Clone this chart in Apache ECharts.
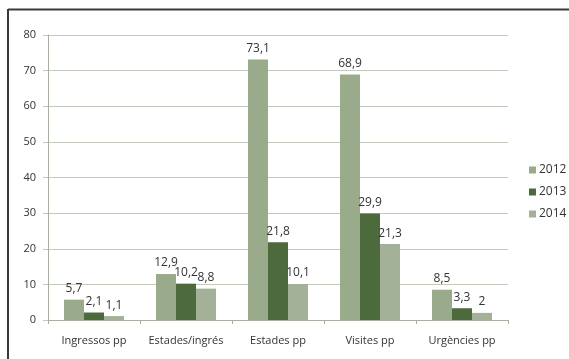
<!DOCTYPE html>
<html><head><meta charset="utf-8">
<script src="https://cdn.jsdelivr.net/npm/echarts@6/dist/echarts.min.js"></script>
<style>html,body{margin:0;padding:0;background:#fff}#c{width:569px;height:359px}</style>
</head><body><div id="c"></div>
<script>
var categories = ['Ingressos pp', 'Estades/ingrés', 'Estades pp', 'Visites pp', 'Urgències pp'];
var years = ['2012', '2013', '2014'];
var v2012 = [5.7, 12.9, 73.1, 68.9, 8.5];
var v2013 = [2.1, 10.2, 21.8, 29.9, 3.3];
var v2014 = [1.1, 8.8, 10.1, 21.3, 2];
var yTicks = [0, 10, 20, 30, 40, 50, 60, 70, 80];

var colors = ['#9aab8c', '#4c6a3b', '#a2b197'];
var font = 'Open Sans, Liberation Sans, sans-serif';
function fmt(p){ return String(p.value).replace('.', ','); }
function mk(name, data, i){
  return {
    name: name, type: 'bar', data: data, barWidth: 20, barGap: '0%',
    itemStyle: { color: colors[i] },
    label: { show: true, position: 'top', distance: 5, color: '#333', fontSize: 12, fontFamily: font, formatter: fmt }
  };
}
var chart = echarts.init(document.getElementById('c'), null, {renderer: 'canvas'});
chart.setOption({
  animation: false,
  grid: { left: 48, right: 61, top: 35, bottom: 39, containLabel: false },
  legend: {
    orient: 'vertical', left: 524, top: 159, itemWidth: 7, itemHeight: 7, itemGap: 10,
    icon: 'rect', data: years,
    textStyle: { color: '#333', fontSize: 12, fontFamily: font, padding: [0,0,0,-2] }
  },
  xAxis: {
    type: 'category', data: categories,
    axisLine: { lineStyle: { color: '#a8b0a4', width: 1 } },
    axisTick: { show: true, length: 4, lineStyle: { color: '#a8b0a4' } },
    axisLabel: { color: '#333', fontSize: 11, fontFamily: font, margin: 15, interval: 0 }
  },
  yAxis: {
    type: 'value', min: yTicks[0], max: yTicks[yTicks.length-1], interval: 10,
    axisLine: { show: true, lineStyle: { color: '#a8b0a4' } },
    axisTick: { show: true, length: 5, lineStyle: { color: '#c2cbbd' } },
    splitLine: { lineStyle: { color: '#c2cbbd', width: 1 } },
    axisLabel: { color: '#333', fontSize: 11, fontFamily: font, margin: 12 }
  },
  graphic: [
    { type: 'line', shape: { x1: 8, y1: 9.5, x2: 569, y2: 9.5 }, style: { stroke: '#3a3a3a', lineWidth: 2 } },
    { type: 'line', shape: { x1: 8, y1: 9, x2: 8, y2: 359 }, style: { stroke: '#3a3a3a', lineWidth: 2 } }
  ],
  series: [mk(years[0], v2012, 0), mk(years[1], v2013, 1), mk(years[2], v2014, 2)]
});
</script></body></html>
